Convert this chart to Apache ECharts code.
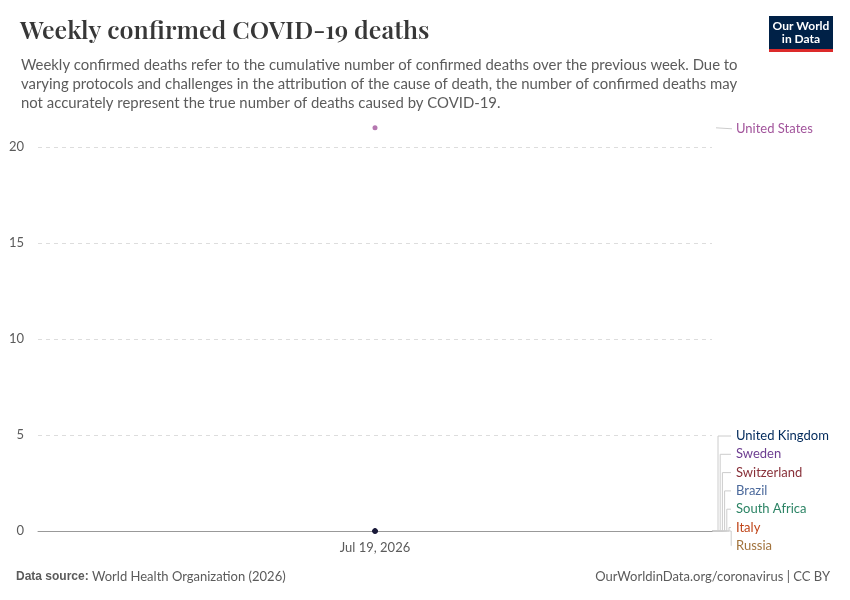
<!DOCTYPE html><html><head><meta charset="utf-8">
<script src="https://cdn.jsdelivr.net/npm/echarts@6/dist/echarts.min.js"></script>
<style>body{margin:0}#c{width:850px;height:600px}</style></head><body><div id="c"></div>
<script>
const dates=['Jul 19, 2026'];
const countries=['United States','United Kingdom','Sweden','Switzerland','Brazil','South Africa','Italy','Russia'];
const values=[21,0,0,0,0,0,0,0];
const colors=['#a2559c','#00295b','#6d3e91','#883039','#4c6a9c','#2c8465','#c0461a','#a2733c'];
const yTicks=[0,5,10,15,20];
const chart=echarts.init(document.getElementById('c'));
const F='Lato, sans-serif';
chart.setOption({
 animation:false,
 title:[{text:'Weekly confirmed COVID-19 deaths',left:15,top:14,textStyle:{fontFamily:'Playfair Display, DejaVu Serif, serif',fontSize:25,fontWeight:600,color:'#373737'}},
  {text:'Weekly confirmed deaths refer to the cumulative number of confirmed deaths over the previous week. Due to\nvarying protocols and challenges in the attribution of the cause of death, the number of confirmed deaths may\nnot accurately represent the true number of deaths caused by COVID-19.',left:16,top:51,textStyle:{fontFamily:F,fontSize:14.9,fontWeight:'normal',color:'#5b5b5b',lineHeight:19}}],
 grid:{left:38,right:138,top:147,bottom:69},
 xAxis:{type:'category',data:dates,boundaryGap:true,axisLine:{lineStyle:{color:'#999'}},axisTick:{show:false},axisLabel:{fontFamily:F,fontSize:13,color:'#5b5b5b',margin:10}},
 yAxis:{type:'value',min:0,max:20,interval:5,axisLabel:{fontFamily:F,fontSize:13,color:'#5b5b5b',margin:14},splitLine:{lineStyle:{type:[4,4],color:'#ddd'}},axisLine:{show:false},axisTick:{show:false}},
 series:countries.map((c,i)=>({name:c,type:'scatter',clip:false,symbol:'circle',symbolSize:5,data:[values[i]],itemStyle:{color:i===0?colors[0]:'#1a1a3a'},z:i===1?5:2}))
});
const g=[];
const xr=712;
const yUS=chart.convertToPixel({yAxisIndex:0},values[0]);
g.push({type:'line',shape:{x1:xr+4,y1:yUS,x2:xr+20,y2:yUS+1},style:{stroke:'#ccc',lineWidth:1}});
g.push({type:'text',x:736,y:yUS+1,style:{text:countries[0],fill:colors[0],font:'13px '+F,verticalAlign:'middle'}});
const y0=chart.convertToPixel({yAxisIndex:0},0);
for(let i=1;i<countries.length;i++){
 const ly=436+(i-1)*18.3; const bx=xr+6+(i-1)*2.2;
 g.push({type:'polyline',shape:{points:[[xr,y0],[bx,y0],[bx,ly],[731,ly]]},style:{stroke:'#ccc',lineWidth:1,fill:null}});
 g.push({type:'text',x:736,y:ly,style:{text:countries[i],fill:colors[i],font:'13px '+F,verticalAlign:'middle'}});
}
g.push({type:'text',left:16,top:570,style:{rich:{b:{fontWeight:'bold',fill:'#5b5b5b',font:'bold 13px '+F},n:{fill:'#5b5b5b',font:'13px '+F}},text:'{b|Data source:} {n|World Health Organization (2026)}'}});
g.push({type:'text',right:20,top:570,style:{text:'OurWorldinData.org/coronavirus | CC BY',fill:'#5b5b5b',font:'13px '+F}});
g.push({type:'rect',shape:{x:769,y:16,width:64,height:36},style:{fill:'#002147'}});
g.push({type:'rect',shape:{x:769,y:49,width:64,height:3},style:{fill:'#dc2a2a'}});
g.push({type:'text',x:801,y:33,style:{text:'Our World\nin Data',fill:'#fff',font:'bold 12px '+F,align:'center',verticalAlign:'middle',lineHeight:13}});
chart.setOption({graphic:g});
</script></body></html>
